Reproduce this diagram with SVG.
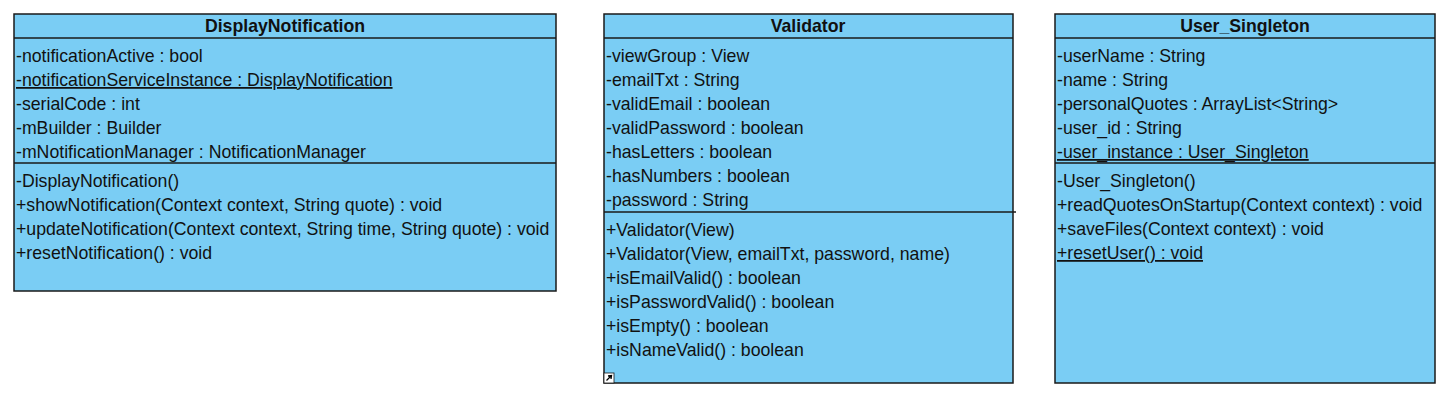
<svg xmlns="http://www.w3.org/2000/svg" width="1448" height="402" viewBox="0 0 1448 402">
<style>
.box{fill:#7ACDF4;stroke:#1a1a1a;stroke-width:1.5}
.ln{stroke:#1a1a1a;stroke-width:1.5}
text{font-family:"Liberation Sans",Arial,sans-serif;font-size:17.7px;fill:#111}
.h{font-weight:bold;text-anchor:middle}
.u{text-decoration:underline}
</style>
<rect width="1448" height="402" fill="#ffffff"/>
<g id="DisplayNotification">
<rect class="box" x="14" y="14" width="542" height="277"/>
<line class="ln" x1="14" y1="38" x2="556" y2="38"/>
<line class="ln" x1="14" y1="163" x2="556" y2="163"/>
<text class="h" x="285" y="32">DisplayNotification</text>
<text x="16" y="62">-notificationActive : bool</text>
<text x="16" y="86" class="u">-notificationServiceInstance : DisplayNotification</text>
<text x="16" y="110">-serialCode : int</text>
<text x="16" y="134">-mBuilder : Builder</text>
<text x="16" y="158">-mNotificationManager : NotificationManager</text>
<text x="16" y="187">-DisplayNotification()</text>
<text x="16" y="211">+showNotification(Context context, String quote) : void</text>
<text x="16" y="235">+updateNotification(Context context, String time, String quote) : void</text>
<text x="16" y="259">+resetNotification() : void</text>
</g>
<g id="Validator">
<rect class="box" x="604" y="14" width="409" height="369"/>
<line class="ln" x1="604" y1="38" x2="1013" y2="38"/>
<line class="ln" x1="604" y1="212" x2="1016" y2="212"/>
<text class="h" x="808" y="32">Validator</text>
<text x="606" y="62">-viewGroup : View</text>
<text x="606" y="86">-emailTxt : String</text>
<text x="606" y="110">-validEmail : boolean</text>
<text x="606" y="134">-validPassword : boolean</text>
<text x="606" y="158">-hasLetters : boolean</text>
<text x="606" y="182">-hasNumbers : boolean</text>
<text x="606" y="206">-password : String</text>
<text x="606" y="236">+Validator(View)</text>
<text x="606" y="260">+Validator(View, emailTxt, password, name)</text>
<text x="606" y="284">+isEmailValid() : boolean</text>
<text x="606" y="308">+isPasswordValid() : boolean</text>
<text x="606" y="332">+isEmpty() : boolean</text>
<text x="606" y="356">+isNameValid() : boolean</text>
<rect x="604" y="373" width="10" height="10" fill="#ffffff" stroke="#1a1a1a" stroke-width="0.8"/>
<path d="M606.5 380.5 L611 376 M608 376 L611.5 375.5 L611 379" fill="none" stroke="#000" stroke-width="1.3"/>
</g>
<g id="User_Singleton">
<rect class="box" x="1055" y="14" width="380" height="369"/>
<line class="ln" x1="1055" y1="38" x2="1435" y2="38"/>
<line class="ln" x1="1055" y1="163" x2="1435" y2="163"/>
<text class="h" x="1245" y="32">User_Singleton</text>
<text x="1057" y="62">-userName : String</text>
<text x="1057" y="86">-name : String</text>
<text x="1057" y="110">-personalQuotes : ArrayList&lt;String&gt;</text>
<text x="1057" y="134">-user_id : String</text>
<text x="1057" y="158" class="u">-user_instance : User_Singleton</text>
<text x="1057" y="187">-User_Singleton()</text>
<text x="1057" y="211">+readQuotesOnStartup(Context context) : void</text>
<text x="1057" y="235">+saveFiles(Context context) : void</text>
<text x="1057" y="259" class="u">+resetUser() : void</text>
</g>
<g id="connectors"></g>
</svg>
